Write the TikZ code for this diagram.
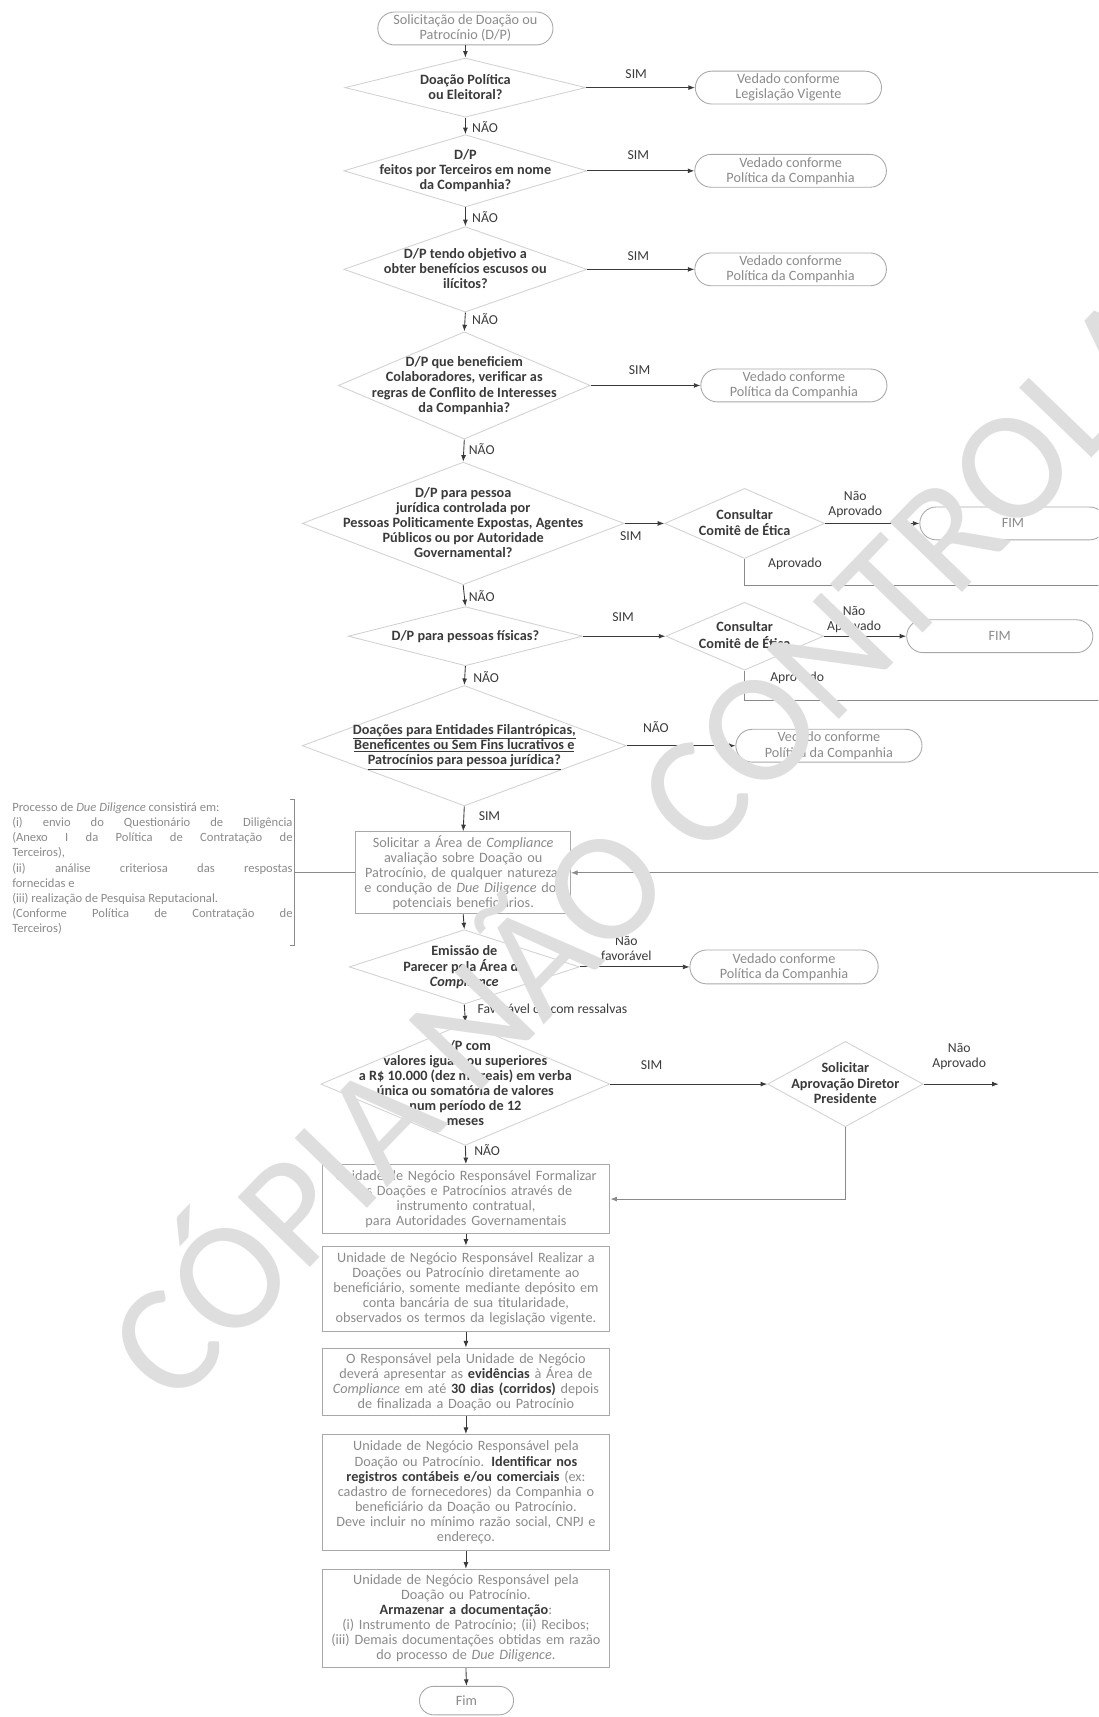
\documentclass[tikz,border=0pt]{standalone}
\usepackage{fontspec}
\setmainfont{Carlito}
\usepackage{xcolor}
\usepackage{tikz}
\usetikzlibrary{shapes.geometric,shapes.misc,arrows.meta}

\definecolor{txtdark}{HTML}{3A3A3A}
\definecolor{txtgray}{HTML}{8A8A8A}
\definecolor{linegray}{HTML}{A8A8A8}
\definecolor{diagray}{HTML}{D2D2D2}
\definecolor{wmgray}{HTML}{DEDEDE}

\newcommand{\nfont}{\fontsize{13}{13.8}\selectfont}
\newcommand{\dtext}[1]{\smash{\raisebox{-.3em}{\makebox[0pt]{\begin{tabular}{@{}c@{}}#1\end{tabular}}}}}
\newcommand{\hl}[1]{\textcolor{txtdark}{\textbf{#1}}}

\begin{document}
\begin{tikzpicture}[x=1pt, y=-1pt,
  decis/.style={diamond, draw=diagray, line width=0.8pt, inner sep=0pt, font=\nfont\bfseries, text=txtdark},
  termbox/.style={rounded rectangle, draw=linegray, line width=0.8pt, inner sep=0pt, minimum height=30pt, align=center, font=\nfont, text=txtgray},
  procbox/.style={draw=linegray, line width=0.8pt, inner sep=2pt, minimum width=263pt, text width=259pt, align=center, font=\nfont, text=txtgray},
  lbl/.style={inner sep=0pt, align=center, font=\fontsize{12.5}{13.5}\selectfont, text=txtdark},
  flow/.style={draw=txtdark, line width=0.8pt, -{Latex[length=6pt,width=4.5pt]}},
  backline/.style={draw=txtgray, line width=0.8pt},
  backflow/.style={draw=txtgray, line width=0.8pt, -{Latex[length=6pt,width=4.5pt]}},
  wmark/.style={font=\fontsize{143}{143}\selectfont, text=wmgray, rotate=46, inner sep=0pt}]
\useasboundingbox (0,0) rectangle (1003,1568);
\clip (0,0) rectangle (1003,1568);

% main column
\node[termbox, minimum width=160pt] (start) at (425,26) {Solicitação de Doação ou\\Patrocínio (D/P)};
\node[decis, minimum width=220pt, minimum height=54pt] (d1) at (425,80) {\dtext{Doação Política\\ou Eleitoral?}};
\node[decis, minimum width=222pt, minimum height=66pt] (d2) at (425,156) {\dtext{D/P\\feitos por Terceiros em nome\\da Companhia?}};
\node[decis, minimum width=222pt, minimum height=78pt] (d3) at (425,246) {\dtext{D/P tendo objetivo a\\obter benefícios escusos ou\\ilícitos?}};
\node[decis, minimum width=230pt, minimum height=98pt] (d4) at (424,352) {\dtext{D/P que beneficiem\\Colaboradores, verificar as\\regras de Conflito de Interesses\\da Companhia?}};
\node[decis, minimum width=294pt, minimum height=112pt] (d5) at (423,478) {\dtext{D/P para pessoa\\jurídica controlada por\\Pessoas Politicamente Expostas, Agentes\\Públicos ou por Autoridade\\Governamental?}};
\node[decis, minimum width=214pt, minimum height=54pt] (d6) at (425,581) {\dtext{D/P para pessoas físicas?}};
\node[decis, minimum width=296pt, minimum height=110pt] (d7) at (424,681) {\dtext{\underline{Doações para Entidades Filantrópicas,}\\\underline{Beneficentes ou Sem Fins lucrativos e}\\\underline{Patrocínios para pessoa jurídica?}}};
\node[procbox, minimum width=196pt, text width=192pt, minimum height=75pt] (p1) at (423,797) {Solicitar a Área de \textit{Compliance}\\avaliação sobre Doação ou\\Patrocínio, de qualquer natureza,\\e condução de \textit{Due Diligence} dos\\potenciais beneficiários.};
\node[decis, minimum width=210pt, minimum height=68pt] (d8) at (424,883) {\dtext{Emissão de\\Parecer pela Área de\\\textit{Compliance}}};
\node[decis, minimum width=264pt, minimum height=112pt] (d9) at (425,990) {\dtext{D/P com\\valores iguais ou superiores\\a R\$ 10.000 (dez mil reais) em verba\\única ou somatória de valores\\num período de 12\\meses}};
\node[procbox, minimum height=63pt] (b1) at (425.5,1095) {Unidade de Negócio Responsável Formalizar\\as Doações e Patrocínios através de\\instrumento contratual,\\para Autoridades Governamentais};
\node[procbox, minimum height=78pt] (b2) at (425.5,1177) {Unidade de Negócio Responsável Realizar a\\Doações ou Patrocínio diretamente ao\\beneficiário, somente mediante depósito em\\conta bancária de sua titularidade,\\observados os termos da legislação vigente.};
\node[procbox, minimum height=62pt] (b3) at (425.5,1262) {O Responsável pela Unidade de Negócio\\deverá apresentar as \hl{evidências} à Área de\\\textit{Compliance} em até \hl{30 dias (corridos)} depois\\de finalizada a Doação ou Patrocínio};
\node[procbox, minimum height=106pt] (b4) at (425.5,1363) {Unidade de Negócio Responsável pela\\Doação ou Patrocínio. \hl{Identificar nos}\\\hl{registros contábeis e/ou comerciais} (ex:\\cadastro de fornecedores) da Companhia o\\beneficiário da Doação ou Patrocínio.\\Deve incluir no mínimo razão social, CNPJ e\\endereço.};
\node[procbox, minimum height=90pt] (b5) at (425.5,1478) {Unidade de Negócio Responsável pela\\Doação ou Patrocínio.\\\hl{Armazenar a documentação}:\\(i) Instrumento de Patrocínio; (ii) Recibos;\\(iii) Demais documentações obtidas em razão\\do processo de \textit{Due Diligence}.};
\node[termbox, minimum width=86pt, minimum height=26pt] (fim) at (426,1553) {Fim};

% side column
\node[termbox, minimum width=170pt] (t1) at (720,80) {Vedado conforme\\Legislação Vigente};
\node[termbox, minimum width=175pt] (t2) at (722,156) {Vedado conforme\\Política da Companhia};
\node[termbox, minimum width=175pt] (t3) at (722,246) {Vedado conforme\\Política da Companhia};
\node[termbox, minimum width=170pt] (t4) at (725,352) {Vedado conforme\\Política da Companhia};
\node[decis, minimum width=146pt, minimum height=64pt] (c1) at (680,478) {\dtext{Consultar\\Comitê de Ética}};
\node[termbox, minimum width=170pt] (fim1) at (925,478) {FIM};
\node[decis, minimum width=144pt, minimum height=62pt] (c2) at (680,581) {\dtext{Consultar\\Comitê de Ética}};
\node[termbox, minimum width=170pt] (fim2) at (913,581) {FIM};
\node[termbox, minimum width=170pt] (t7) at (757,681) {Vedado conforme\\Política da Companhia};
\node[termbox, minimum width=172pt, minimum height=31pt] (t8) at (716,883) {Vedado conforme\\Política da Companhia};
\node[decis, minimum width=142pt, minimum height=78pt] (c3) at (772,990) {\dtext{Solicitar\\Aprovação Diretor\\Presidente}};
\coordinate (c3out) at (912,990);

% note on the left
\node[anchor=north west, inner sep=0pt, text width=256pt, align=justify, font=\fontsize{11.5}{13.8}\selectfont, text=txtgray] (ddnote) at (11,733) {Processo de \textit{Due Diligence} consistirá em:\\(i) envio do Questionário de Diligência\linebreak (Anexo I da Política de Contratação de\linebreak Terceiros),\\(ii) análise criteriosa das respostas\linebreak fornecidas e\\(iii) realização de Pesquisa Reputacional.\\(Conforme Política de Contratação de\linebreak Terceiros)};
\coordinate (brmid) at (269,797);
\draw[backline] (265,730) -- (269,730) -- (269,863) -- (265,863);
\draw[backline] (brmid) -- (p1.west);

% labels
\node[lbl] (sim1) at (581,68) {SIM};
\node[lbl] (sim2) at (583,142) {SIM};
\node[lbl] (sim3) at (583,234) {SIM};
\node[lbl] (sim4) at (584,338) {SIM};
\node[lbl] (sim5) at (576,490) {SIM};
\node[lbl] (sim6) at (569,564) {SIM};
\node[lbl, anchor=west] (sim7) at (437,745) {SIM};
\node[lbl] (sim9) at (595,973) {SIM};
\node[lbl, anchor=west] (nao1) at (431,116) {NÃO};
\node[lbl, anchor=west] (nao2) at (431,198) {NÃO};
\node[lbl, anchor=west] (nao3) at (431,291) {NÃO};
\node[lbl, anchor=west] (nao4) at (428,410) {NÃO};
\node[lbl, anchor=west] (nao5) at (428,544) {NÃO};
\node[lbl, anchor=west] (nao6) at (432,618) {NÃO};
\node[lbl] (nao7) at (599,664) {NÃO};
\node[lbl, anchor=west] (nao9) at (433,1050) {NÃO};
\node[lbl] (napr1) at (781,461) {Não\\Aprovado};
\node[lbl] (apr1) at (726,515) {Aprovado};
\node[lbl] (napr2) at (780,566) {Não\\Aprovado};
\node[lbl] (apr2) at (728,619) {Aprovado};
\node[lbl] (nfav) at (572,866) {Não\\favorável};
\node[lbl, anchor=west] (fav) at (436,921) {Favorável ou com ressalvas};
\node[lbl] (napr3) at (876,965) {Não\\Aprovado};

% main flow
\draw[flow] (start.south) -- (d1.north);
\draw[flow] (d1.south) -- (d2.north); % nao
\draw[flow] (d2.south) -- (d3.north);
\draw[flow] (d3.south) -- (d4.north);
\draw[flow] (d4.south) -- (d5.north);
\draw[flow] (d5.south) -- (d6.north);
\draw[flow] (d6.south) -- (d7.north);
\draw[flow] (d7.south) -- (p1.north); % sim
\draw[flow] (p1.south) -- (d8.north);
\draw[flow] (d8.south) -- (d9.north);
\draw[flow] (d9.south) -- (b1.north);
\draw[flow] (b1.south) -- (b2.north);
\draw[flow] (b2.south) -- (b3.north);
\draw[flow] (b3.south) -- (b4.north);
\draw[flow] (b4.south) -- (b5.north);
\draw[flow] (b5.south) -- (fim.north);

% side branches
\draw[flow] (d1.east) -- (t1.west); % sim
\draw[flow] (d2.east) -- (t2.west);
\draw[flow] (d3.east) -- (t3.west);
\draw[flow] (d4.east) -- (t4.west);
\draw[flow] (d5.east) -- (c1.west);
\draw[flow] (c1.east) -- (fim1.west); % nao aprovado
\draw[flow] (d6.east) -- (c2.west);
\draw[flow] (c2.east) -- (fim2.west);
\draw[flow] (d7.east) -- (t7.west); % nao
\draw[flow] (d8.east) -- (t8.west); % nao favoravel
\draw[flow] (d9.east) -- (c3.west);
\draw[flow] (c3.east) -- (c3out);

% returns
\draw[backflow] (c1.south) |- (1020,535) -- (1020,797) -- (p1.east); % aprovado
\draw[backline] (c2.south) |- (1020,640) -- (1020,797);
\draw[backflow] (c3.south) |- (b1.east);

% watermark
\node[wmark] (wm) at (640,703) {CÓPIA NÃO CONTROLADA};
\end{tikzpicture}
\end{document}
